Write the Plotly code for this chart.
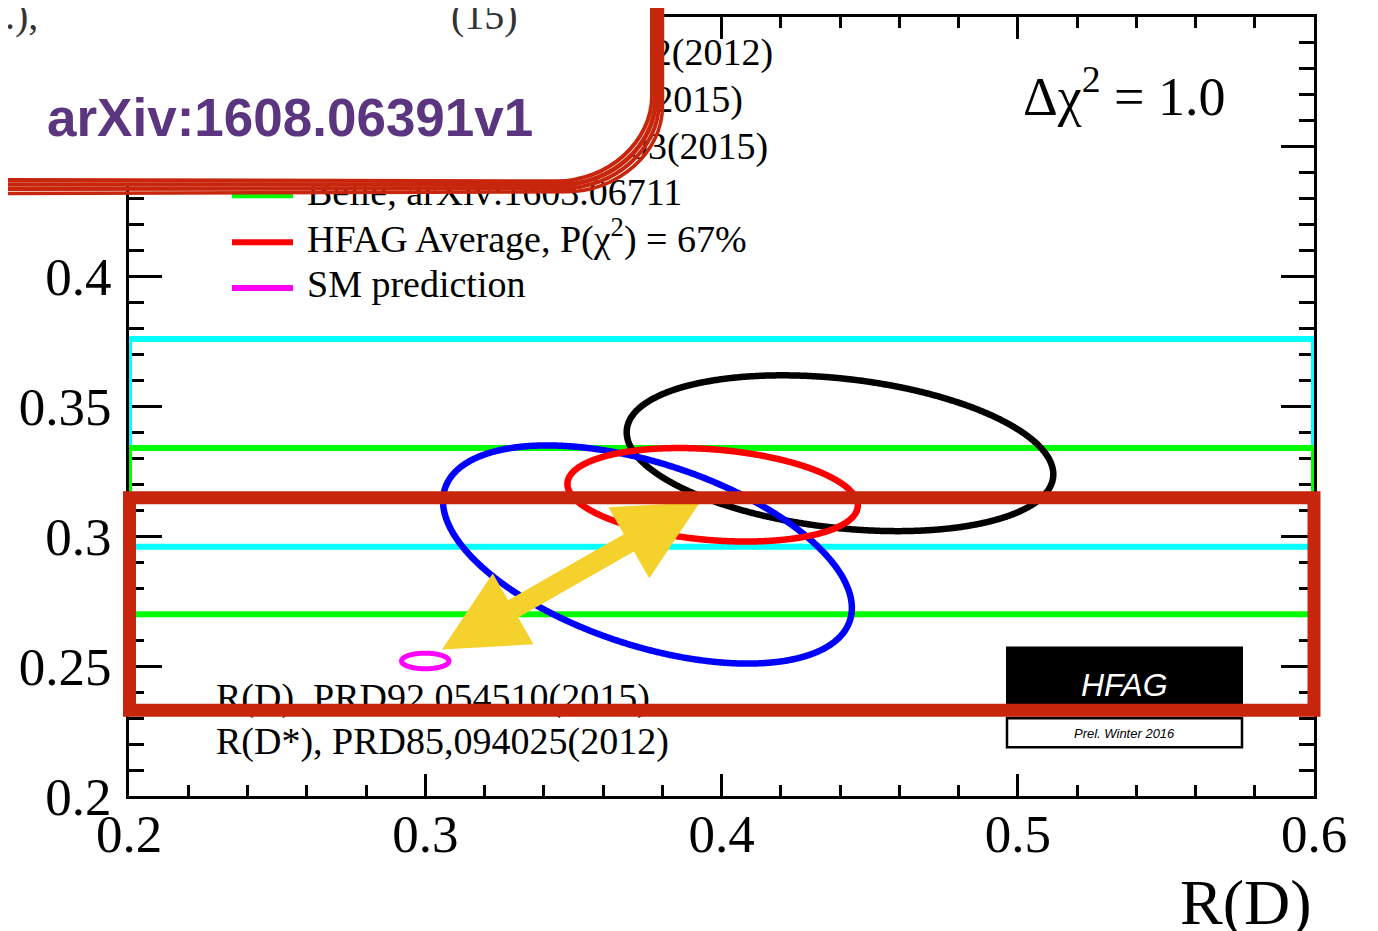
import numpy as np
import plotly.graph_objects as go

# ---------------- data ----------------
# 2D measurements (Delta chi^2 = 1 contours): R(D), R(D*), errors, correlation
contour_names = ["BaBar", "Belle 2015", "HFAG Average", "SM prediction"]
contour_rd = [0.440, 0.375, 0.397, 0.300]
contour_rds = [0.332, 0.293, 0.316, 0.252]
contour_sig_rd = [0.072, 0.069, 0.049, 0.008]
contour_sig_rds = [0.030, 0.042, 0.018, 0.003]
contour_rho = [-0.27, -0.49, -0.23, 0.0]
contour_colors = ["#000000", "#0000FF", "#FF0000", "#FF00FF"]

# R(D*)-only measurements (bands)
band_names = ["LHCb", "Belle arXiv"]
band_rds = [0.336, 0.302]
band_sig_rds = [0.040, 0.032]
band_colors = ["#00FFFF", "#00FF00"]

legend_labels = [
    "BaBar, PRL109,101802(2012)",
    "Belle, PRD92,072014(2015)",
    "LHCb, PRL115,111803(2015)",
    "Belle, arXiv:1603.06711",
    "HFAG Average, P(\u03c7<sup>2</sup>) = 67%",
    "SM prediction",
]
legend_colors = ["#000000", "#0000FF", "#00FFFF", "#00FF00", "#FF0000", "#FF00FF"]
sm_refs = ["R(D), PRD92,054510(2015)", "R(D*), PRD85,094025(2012)"]

x_ticks = [0.2, 0.3, 0.4, 0.5, 0.6]
x_ticktext = ["0.2", "0.3", "0.4", "0.5", "0.6"]
y_ticks = [0.2, 0.25, 0.3, 0.35, 0.4, 0.45, 0.5]
y_ticktext = ["0.2", "0.25", "0.3", "0.35", "0.4", "0.45", "0.5"]
x_range = [0.2, 0.6]
y_range = [0.2, 0.5]

# ---------------- geometry (page pixels; page has an 8px body margin) ----------------
OFF = 8
W, H = 1370, 923
PL, PR, PT, PB = 129, 1314, 14, 796          # plot area on the page
ML, MT = PL - OFF, PT - OFF
MR = W - (PR - OFF)
MB = H - (PB - OFF)
PW, PH = PR - PL, PB - PT


def pxx(p):  # page pixel x -> paper x
    return (p - PL) / PW


def pxy(p):  # page pixel y -> paper y
    return (PB - p) / PH


def dx(p):  # page pixel x -> data x
    return x_range[0] + pxx(p) * (x_range[1] - x_range[0])


def dy(p):  # page pixel y -> data y
    return y_range[0] + pxy(p) * (y_range[1] - y_range[0])


def path_from_px(points, close=True):
    s = "M " + " L ".join(f"{pxx(x):.5f},{pxy(y):.5f}" for x, y in points)
    return s + (" Z" if close else "")


SERIF = "Liberation Serif"
SANS = "Liberation Sans"
HL_RED = "#C8260C"

fig = go.Figure()

# bands
for yc, sg, col in zip(band_rds, band_sig_rds, band_colors):
    lo, hi = yc - sg, yc + sg
    fig.add_trace(go.Scatter(
        x=[x_range[0], x_range[1], x_range[1], x_range[0], x_range[0]],
        y=[lo, lo, hi, hi, lo], mode="lines",
        line=dict(color=col, width=6), hoverinfo="skip", showlegend=False))

# ellipses
t = np.linspace(0, 2 * np.pi, 721)
for cx, cy, sx, sy, r, col in zip(contour_rd, contour_rds, contour_sig_rd,
                                   contour_sig_rds, contour_rho, contour_colors):
    cov = np.array([[sx * sx, r * sx * sy], [r * sx * sy, sy * sy]])
    Lc = np.linalg.cholesky(cov)
    pts = Lc @ np.vstack([np.cos(t), np.sin(t)])
    fig.add_trace(go.Scatter(
        x=cx + pts[0], y=cy + pts[1], mode="lines",
        line=dict(color=col, width=6.5 if col != "#FF00FF" else 5, shape="spline"),
        hoverinfo="skip", showlegend=False))

# legend text (as trace text so the overlay can hide it)
leg_rows = [53, 100, 147, 193, 240, 286]
fig.add_trace(go.Scatter(
    x=[dx(307)] * len(legend_labels), y=[dy(r) for r in leg_rows],
    mode="text", text=legend_labels, textposition="middle right",
    textfont=dict(family=SERIF, size=38, color="black"),
    cliponaxis=False, hoverinfo="skip", showlegend=False))

# SM reference text
fig.add_trace(go.Scatter(
    x=[dx(216)] * 2, y=[dy(700), dy(744)],
    mode="text", text=sm_refs, textposition="middle right",
    textfont=dict(family=SERIF, size=38, color="black"),
    cliponaxis=False, hoverinfo="skip", showlegend=False))

shapes = []
# legend swatches
for r, col in zip(leg_rows, legend_colors):
    shapes.append(dict(type="line", xref="paper", yref="paper",
                       x0=pxx(232), x1=pxx(293), y0=pxy(r), y1=pxy(r),
                       line=dict(color=col, width=6), layer="below"))

# yellow double arrow
tip1 = np.array([442.0, 649.0])
tip2 = np.array([700.0, 501.0])
u = (tip2 - tip1) / np.linalg.norm(tip2 - tip1)
n = np.array([-u[1], u[0]])
head_len, head_hw, shaft_hw = 82.0, 41.0, 10.0
b1 = tip1 + u * head_len
b2 = tip2 - u * head_len
arrow = [tip1, b1 + n * head_hw, b1 + n * shaft_hw, b2 + n * shaft_hw, b2 + n * head_hw,
         tip2, b2 - n * head_hw, b2 - n * shaft_hw, b1 - n * shaft_hw, b1 - n * head_hw]
shapes.append(dict(type="path", xref="paper", yref="paper",
                   path=path_from_px([tuple(p) for p in arrow]),
                   fillcolor="#F5D12B", line=dict(width=0), layer="above"))

# HFAG logo
shapes.append(dict(type="rect", xref="paper", yref="paper",
                   x0=pxx(1006), x1=pxx(1243), y0=pxy(646), y1=pxy(716),
                   fillcolor="black", line=dict(width=0), layer="above"))
shapes.append(dict(type="rect", xref="paper", yref="paper",
                   x0=pxx(1007), x1=pxx(1242), y0=pxy(718), y1=pxy(747),
                   fillcolor="white", line=dict(color="black", width=2.5), layer="above"))

# highlight box
shapes.append(dict(type="rect", xref="paper", yref="paper",
                   x0=pxx(129.5), x1=pxx(1314), y0=pxy(496.5), y1=pxy(710),
                   line=dict(color=HL_RED, width=13), layer="above"))


# overlay (white card with hand-drawn red border)
def card_outline(ox, oy, close):
    xr, yb = 657 + ox, 184 + oy
    s = ("M {:.5f},{:.5f} L {:.5f},{:.5f} C {:.5f},{:.5f} {:.5f},{:.5f} {:.5f},{:.5f} L {:.5f},{:.5f}"
         .format(pxx(xr), pxy(-20), pxx(xr), pxy(98 + oy),
                 pxx(xr), pxy(144 + oy), pxx(613 + ox), pxy(yb), pxx(561 + ox), pxy(yb),
                 pxx(-20), pxy(yb + 0.3 * oy)))
    if close:
        s += " L {:.5f},{:.5f} Z".format(pxx(-20), pxy(-20))
    return s


shapes.append(dict(type="path", xref="paper", yref="paper", path=card_outline(0, 0, True),
                   fillcolor="white", line=dict(width=0), layer="above"))
for ox, oy, ww in [(-5, -5, 4), (-1.5, -1.5, 4.5), (2, 2, 4), (5.5, 5.5, 3.5)]:
    shapes.append(dict(type="path", xref="paper", yref="paper", path=card_outline(ox, oy, False),
                       line=dict(color=HL_RED, width=ww), layer="above"))

annotations = [
    dict(text="\u0394\u03c7<sup>2</sup> = 1.0", xref="paper", yref="paper",
         x=pxx(1021), y=pxy(90), xanchor="left", yanchor="middle", showarrow=False,
         font=dict(family=SERIF, size=54, color="black")),
    dict(text="R(D)", xref="paper", yref="paper", x=pxx(1314), y=pxy(903),
         xanchor="right", yanchor="middle", showarrow=False,
         font=dict(family=SERIF, size=64, color="black")),
    dict(text="HFAG", xref="paper", yref="paper", x=pxx(1124), y=pxy(685),
         xanchor="center", yanchor="middle", showarrow=False,
         font=dict(family=SANS, size=32, color="white", style="italic")),
    dict(text="Prel. Winter 2016", xref="paper", yref="paper", x=pxx(1124), y=pxy(733),
         xanchor="center", yanchor="middle", showarrow=False,
         font=dict(family=SANS, size=13, color="black", style="italic")),
    dict(text="arXiv:1608.06391v1", xref="paper", yref="paper", x=pxx(45), y=pxy(115),
         xanchor="left", yanchor="middle", showarrow=False,
         font=dict(family=SANS, size=53, color="#5B3580", weight="bold")),
    dict(text="(15)", xref="paper", yref="paper", x=pxx(485), y=pxy(12),
         xanchor="center", yanchor="middle", showarrow=False,
         font=dict(family=SERIF, size=40, color="#333333")),
    dict(text=".),", xref="paper", yref="paper", x=pxx(40), y=pxy(12),
         xanchor="right", yanchor="middle", showarrow=False,
         font=dict(family=SERIF, size=40, color="#333333")),
]

axis_common = dict(showline=True, linecolor="black", linewidth=3, mirror="ticks",
                   ticks="inside", tickcolor="black", tickwidth=3,
                   showgrid=False, zeroline=False, layer="below traces",
                   tickfont=dict(family=SERIF, size=53, color="black"))

fig.update_layout(
    width=W, height=H, margin=dict(l=ML, r=MR, t=MT, b=MB, pad=0),
    paper_bgcolor="white", plot_bgcolor="white", showlegend=False,
    xaxis=dict(range=x_range, tickvals=x_ticks, ticktext=x_ticktext, ticklen=22,
               ticklabelstandoff=-11,
               minor=dict(dtick=0.02, tick0=0.2, ticklen=11, tickwidth=3, ticks="inside",
                          tickcolor="black", showgrid=False),
               **axis_common),
    yaxis=dict(range=y_range, tickvals=y_ticks, ticktext=y_ticktext, ticklen=33,
               ticklabelstandoff=4,
               minor=dict(dtick=0.01, tick0=0.2, ticklen=15, tickwidth=3, ticks="inside",
                          tickcolor="black", showgrid=False),
               **axis_common),
    shapes=shapes, annotations=annotations,
)

fig.write_html("out.html")
